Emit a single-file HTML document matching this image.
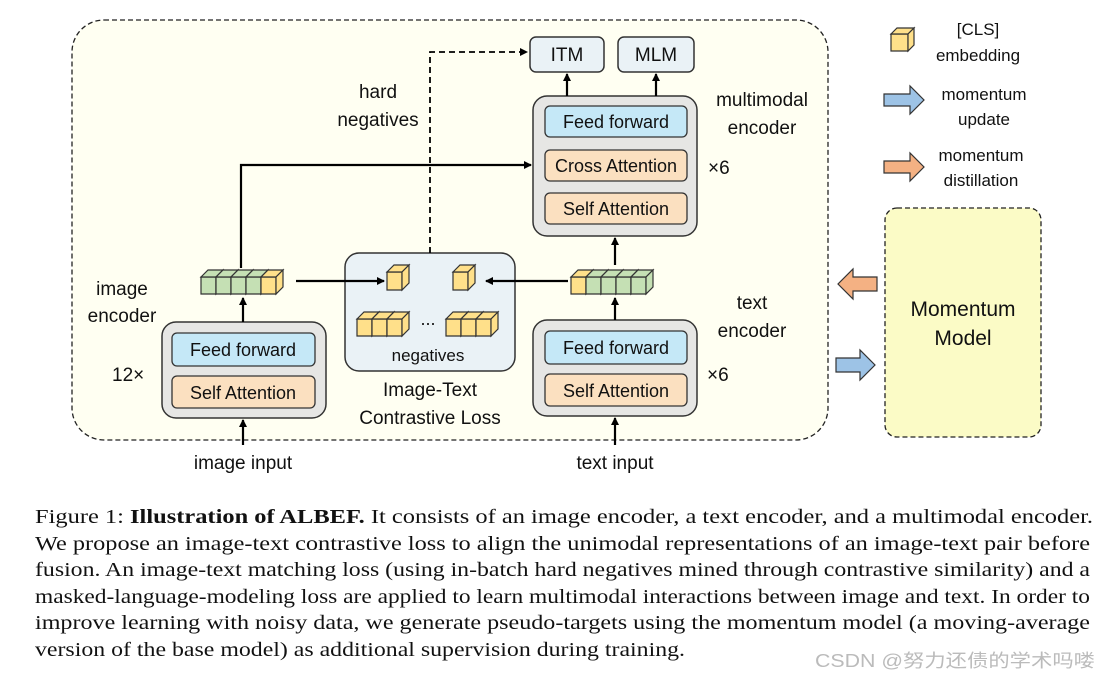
<!DOCTYPE html>
<html><head><meta charset="utf-8"><style>
html,body{margin:0;padding:0;background:#fff;width:1100px;height:678px;overflow:hidden}
.s{font-family:"Liberation Sans",sans-serif;font-size:18px;fill:#111}
.c{font-family:"Liberation Serif","Times New Roman",serif;font-size:20.5px;fill:#111}
</style></head><body>
<svg id="g" width="1100" height="678" xmlns="http://www.w3.org/2000/svg">
<defs><marker id="a" markerWidth="8" markerHeight="8" refX="7" refY="4" orient="auto" markerUnits="userSpaceOnUse"><path d="M0,0 L8,4 L0,8 z" fill="#000"/></marker></defs>
<rect x="72" y="20" width="756" height="420" rx="32" fill="#fffff2" stroke="#222" stroke-width="1.3" stroke-dasharray="5,3"/>
<rect x="885" y="208" width="156" height="229" rx="12" fill="#fbfbc6" stroke="#222" stroke-width="1.3" stroke-dasharray="5,3"/>
<text class="s" x="963" y="316" text-anchor="middle" style="font-size:21px">Momentum</text>
<text class="s" x="963" y="345" text-anchor="middle" style="font-size:21px">Model</text>
<rect x="530" y="37" width="74" height="35" rx="6" fill="#eaf2f6" stroke="#333" stroke-width="1.5"/>
<text class="s" x="567" y="61" text-anchor="middle" style="font-size:19px">ITM</text>
<rect x="618" y="37" width="76" height="35" rx="6" fill="#eaf2f6" stroke="#333" stroke-width="1.5"/>
<text class="s" x="656" y="61" text-anchor="middle" style="font-size:19px">MLM</text>
<rect x="533" y="96" width="164" height="140" rx="14" fill="#e6e6e4" stroke="#333" stroke-width="1.5"/>
<rect x="545" y="106" width="142" height="31" rx="5" fill="#c5e8f7" stroke="#333" stroke-width="1.3"/>
<text class="s" x="616" y="128" text-anchor="middle">Feed forward</text>
<rect x="545" y="150" width="142" height="31" rx="5" fill="#fbe0c0" stroke="#333" stroke-width="1.3"/>
<text class="s" x="616" y="172" text-anchor="middle">Cross Attention</text>
<rect x="545" y="193" width="142" height="31" rx="5" fill="#fbe0c0" stroke="#333" stroke-width="1.3"/>
<text class="s" x="616" y="215" text-anchor="middle">Self Attention</text>
<rect x="162" y="322" width="164" height="96" rx="14" fill="#e6e6e4" stroke="#333" stroke-width="1.5"/>
<rect x="172" y="333" width="143" height="33" rx="5" fill="#c5e8f7" stroke="#333" stroke-width="1.3"/>
<text class="s" x="243" y="356" text-anchor="middle">Feed forward</text>
<rect x="172" y="376" width="143" height="32" rx="5" fill="#fbe0c0" stroke="#333" stroke-width="1.3"/>
<text class="s" x="243" y="399" text-anchor="middle">Self Attention</text>
<rect x="533" y="320" width="164" height="96" rx="14" fill="#e6e6e4" stroke="#333" stroke-width="1.5"/>
<rect x="545" y="331" width="142" height="33" rx="5" fill="#c5e8f7" stroke="#333" stroke-width="1.3"/>
<text class="s" x="616" y="354" text-anchor="middle">Feed forward</text>
<rect x="545" y="374" width="142" height="32" rx="5" fill="#fbe0c0" stroke="#333" stroke-width="1.3"/>
<text class="s" x="616" y="397" text-anchor="middle">Self Attention</text>
<rect x="345" y="253" width="170" height="118" rx="14" fill="#eaf2f6" stroke="#333" stroke-width="1.5"/>
<text class="s" x="428" y="361" text-anchor="middle" style="font-size:17px">negatives</text>
<text class="s" x="428" y="325" text-anchor="middle">...</text>
<text class="s" x="430" y="396" text-anchor="middle" style="font-size:19px">Image-Text</text>
<text class="s" x="430" y="424" text-anchor="middle" style="font-size:19px">Contrastive Loss</text>
<text class="s" x="378" y="98" text-anchor="middle" style="font-size:19px">hard</text>
<text class="s" x="378" y="126" text-anchor="middle" style="font-size:19px">negatives</text>
<text class="s" x="762" y="106" text-anchor="middle" style="font-size:19px">multimodal</text>
<text class="s" x="762" y="134" text-anchor="middle" style="font-size:19px">encoder</text>
<text class="s" x="708" y="174" style="font-size:19px">×6</text>
<text class="s" x="122" y="295" text-anchor="middle" style="font-size:19px">image</text>
<text class="s" x="122" y="322" text-anchor="middle" style="font-size:19px">encoder</text>
<text class="s" x="112" y="381" style="font-size:19px">12×</text>
<text class="s" x="752" y="309" text-anchor="middle" style="font-size:19px">text</text>
<text class="s" x="752" y="337" text-anchor="middle" style="font-size:19px">encoder</text>
<text class="s" x="707" y="381" style="font-size:19px">×6</text>
<text class="s" x="243" y="469" text-anchor="middle" style="font-size:19px">image input</text>
<text class="s" x="615" y="469" text-anchor="middle" style="font-size:19px">text input</text>
<text class="s" x="978" y="35" text-anchor="middle" style="font-size:17px">[CLS]</text>
<text class="s" x="978" y="61" text-anchor="middle" style="font-size:17px">embedding</text>
<text class="s" x="984" y="100" text-anchor="middle" style="font-size:17px">momentum</text>
<text class="s" x="984" y="125" text-anchor="middle" style="font-size:17px">update</text>
<text class="s" x="981" y="161" text-anchor="middle" style="font-size:17px">momentum</text>
<text class="s" x="981" y="186" text-anchor="middle" style="font-size:17px">distillation</text>
<path d="M884,94 h26 v-8 l14,14 l-14,14 v-8 h-26 z" fill="#9dc3e6" stroke="#333" stroke-width="1.2"/>
<path d="M884,161 h26 v-8 l14,14 l-14,14 v-8 h-26 z" fill="#f4b183" stroke="#333" stroke-width="1.2"/>
<path d="M877,277 h-24 v-8 l-15,15 l15,15 v-8 h24 z" fill="#f4b183" stroke="#333" stroke-width="1.2"/>
<path d="M836,358 h24 v-8 l15,15 l-15,15 v-8 h-24 z" fill="#9dc3e6" stroke="#333" stroke-width="1.2"/>
<g stroke="#000" stroke-width="2.2" fill="none">
<path d="M241,268 V165 H531" marker-end="url(#a)"/>
<path d="M296,281 H384" marker-end="url(#a)"/>
<path d="M568,281 H486" marker-end="url(#a)"/>
<path d="M430,253 V52 H527" stroke-dasharray="6,4" stroke-width="1.8" marker-end="url(#a)"/>
<path d="M243,445 V420" marker-end="url(#a)"/>
<path d="M243,322 V298" marker-end="url(#a)"/>
<path d="M615,445 V418" marker-end="url(#a)"/>
<path d="M615,320 V298" marker-end="url(#a)"/>
<path d="M615,265 V238" marker-end="url(#a)"/>
<path d="M567,96 V74" marker-end="url(#a)"/>
<path d="M656,96 V74" marker-end="url(#a)"/>
</g>
<g id="cubes" stroke="#333" stroke-width="1.2"></g>
<text class="c" x="35" y="523" textLength="1058" lengthAdjust="spacingAndGlyphs">Figure 1: <tspan font-weight="bold">Illustration of ALBEF.</tspan> It consists of an image encoder, a text encoder, and a multimodal encoder.</text>
<text class="c" x="35" y="550" textLength="1055" lengthAdjust="spacingAndGlyphs">We propose an image-text contrastive loss to align the unimodal representations of an image-text pair before</text>
<text class="c" x="35" y="576" textLength="1055" lengthAdjust="spacingAndGlyphs">fusion. An image-text matching loss (using in-batch hard negatives mined through contrastive similarity) and a</text>
<text class="c" x="35" y="603" textLength="1055" lengthAdjust="spacingAndGlyphs">masked-language-modeling loss are applied to learn multimodal interactions between image and text. In order to</text>
<text class="c" x="35" y="629" textLength="1055" lengthAdjust="spacingAndGlyphs">improve learning with noisy data, we generate pseudo-targets using the momentum model (a moving-average</text>
<text class="c" x="35" y="656" textLength="650" lengthAdjust="spacingAndGlyphs">version of the base model) as additional supervision during training.</text>
<text x="815" y="667" textLength="280" lengthAdjust="spacingAndGlyphs" style="font-family:'Liberation Sans','Noto Sans CJK SC',sans-serif;font-size:18px;fill:#bbb">CSDN @努力还债的学术吗喽</text>
</svg>
<script>
var g=document.getElementById('cubes'),ns='http://www.w3.org/2000/svg';
function p(pts,f){var e=document.createElementNS(ns,'polygon');e.setAttribute('points',pts);e.setAttribute('fill',f);g.appendChild(e);}
function cube(x,y,w,h,d,f){p(x+','+y+' '+(x+w)+','+y+' '+(x+w)+','+(y+h)+' '+x+','+(y+h),f);
p(x+','+y+' '+(x+d)+','+(y-d)+' '+(x+w+d)+','+(y-d)+' '+(x+w)+','+y,f);
p((x+w)+','+y+' '+(x+w+d)+','+(y-d)+' '+(x+w+d)+','+(y+h-d)+' '+(x+w)+','+(y+h),f);}
var G='#c5e0b4',Y='#ffe08a';
for(var i=0;i<5;i++)cube(201+i*15,277,15,17,7,i==4?Y:G);
for(var i=0;i<5;i++)cube(571+i*15,277,15,17,7,i==0?Y:G);
cube(387,272,15,18,7,Y);cube(453,272,15,18,7,Y);
for(var i=0;i<3;i++)cube(357+i*15,319,15,17,7,Y);
for(var i=0;i<3;i++)cube(446+i*15,319,15,17,7,Y);
cube(891,34,17,17,6,Y);
</script>
</body></html>
